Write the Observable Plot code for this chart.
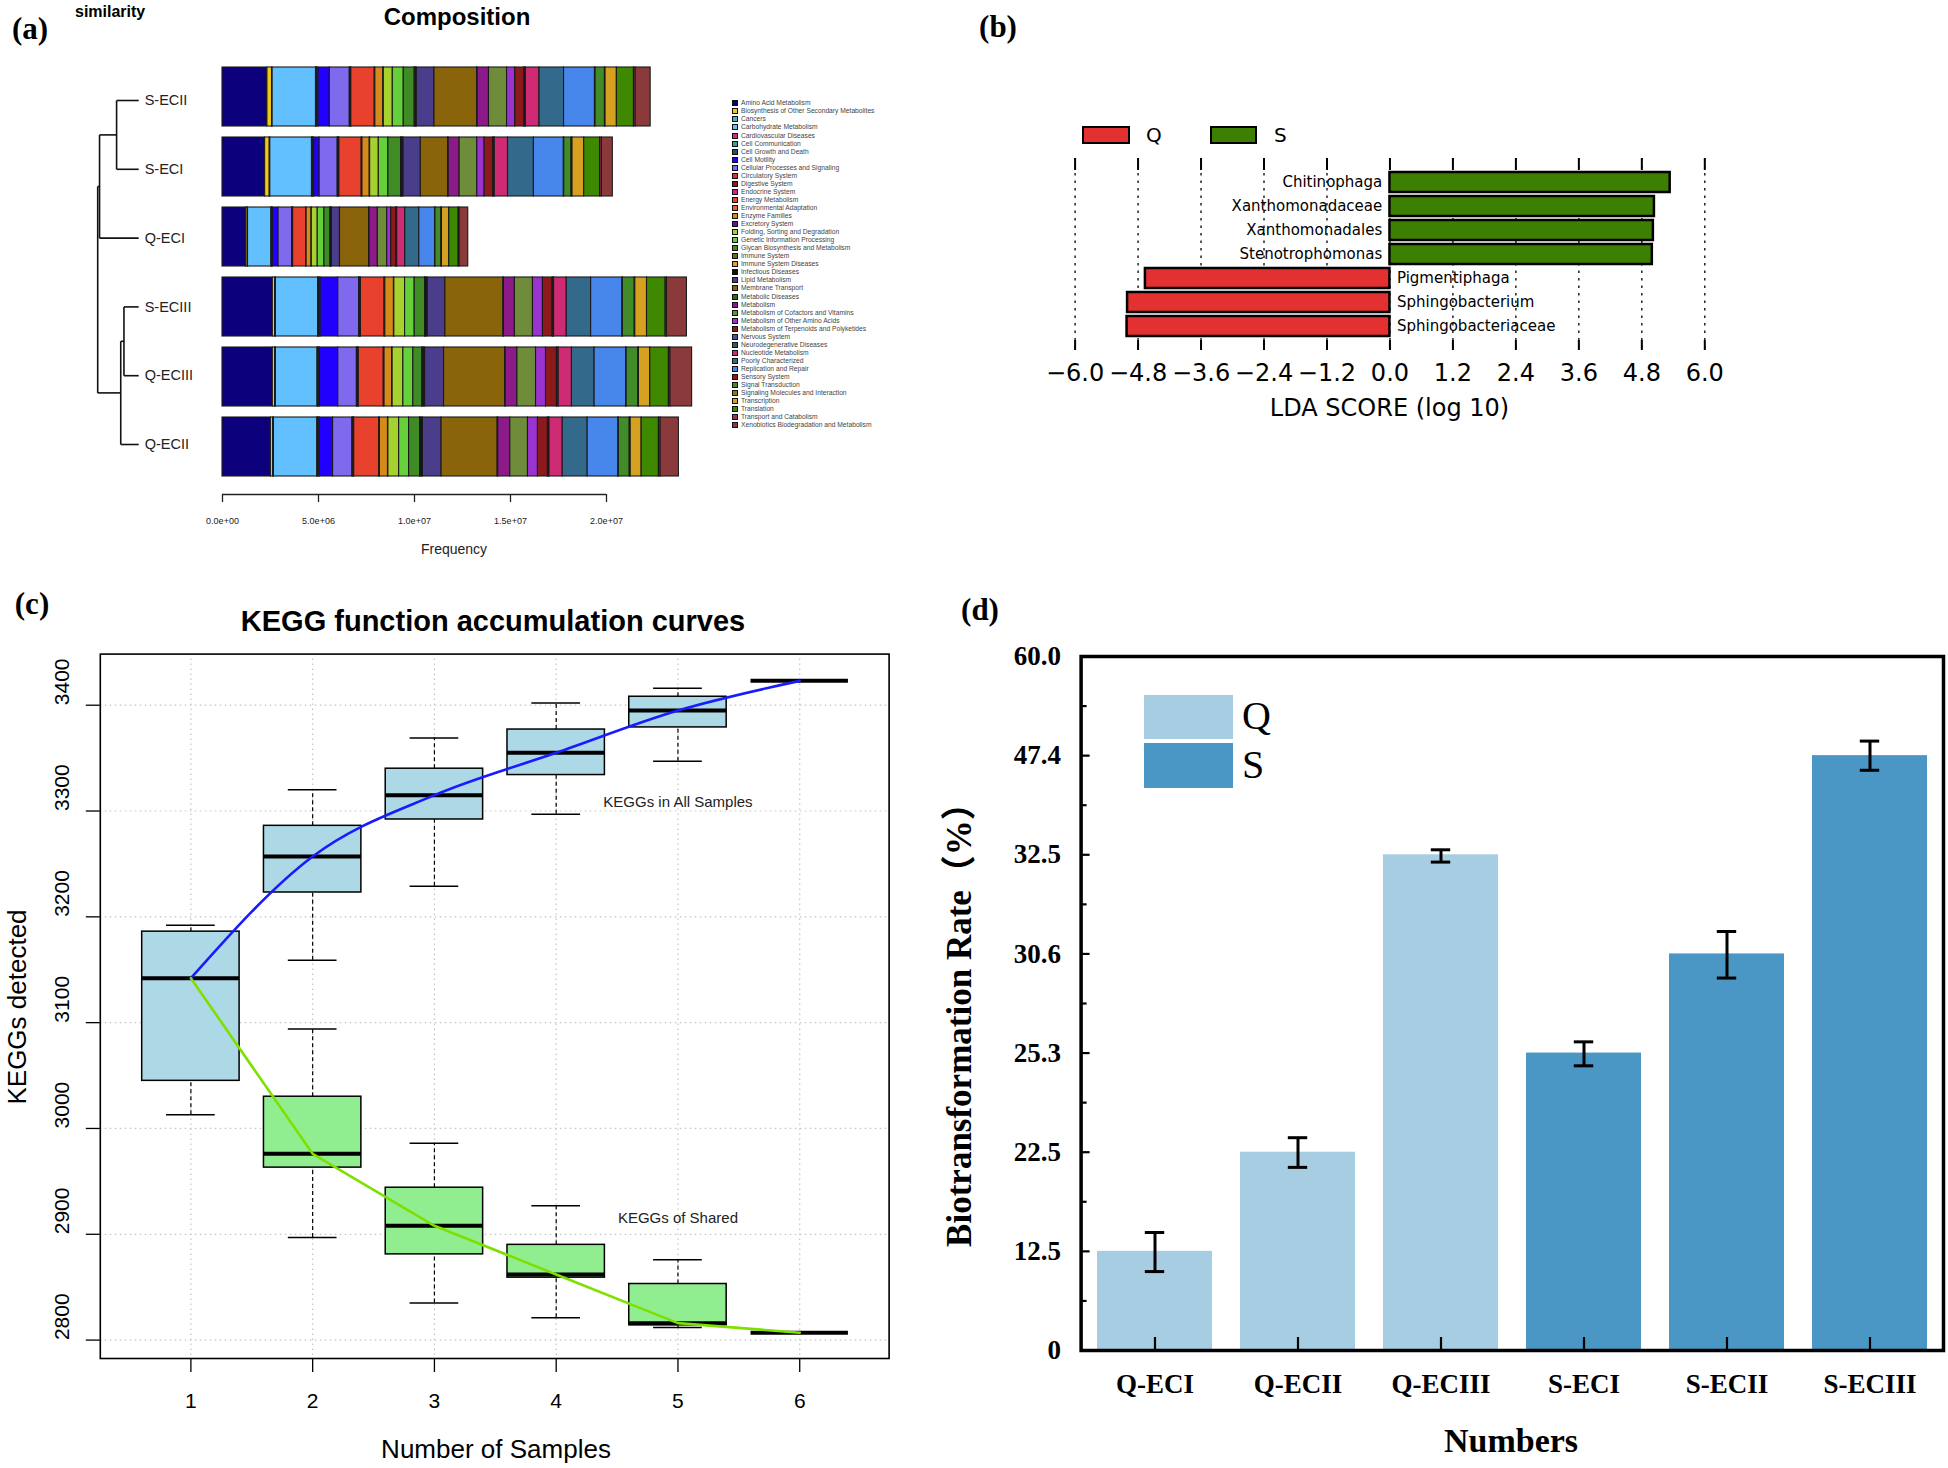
<!DOCTYPE html>
<html>
<head>
<meta charset="utf-8">
<script src="https://cdn.jsdelivr.net/npm/d3@7"></script>
<script src="https://cdn.jsdelivr.net/npm/@observablehq/plot@0.6"></script>
<style>
  html, body { margin: 0; padding: 0; background: #fff; }
  #page { position: relative; width: 1948px; height: 1468px; overflow: hidden; background: #fff; }
  .abs { position: absolute; }
  .abs svg { max-width: none !important; background: transparent !important; overflow: visible; }
  .txt { position: absolute; white-space: nowrap; line-height: 1; }
</style>
</head>
<body>
<div id="page"></div>
<script>
// ---------------- DATA ----------------
// (a) KEGG level-2 composition (frequency, millions)
const keggCategories = ["Amino Acid Metabolism","Biosynthesis of Other Secondary Metabolites","Cancers","Carbohydrate Metabolism","Cardiovascular Diseases","Cell Communication","Cell Growth and Death","Cell Motility","Cellular Processes and Signaling","Circulatory System","Digestive System","Endocrine System","Energy Metabolism","Environmental Adaptation","Enzyme Families","Excretory System","Folding, Sorting and Degradation","Genetic Information Processing","Glycan Biosynthesis and Metabolism","Immune System","Immune System Diseases","Infectious Diseases","Lipid Metabolism","Membrane Transport","Metabolic Diseases","Metabolism","Metabolism of Cofactors and Vitamins","Metabolism of Other Amino Acids","Metabolism of Terpenoids and Polyketides","Nervous System","Neurodegenerative Diseases","Nucleotide Metabolism","Poorly Characterized","Replication and Repair","Sensory System","Signal Transduction","Signaling Molecules and Interaction","Transcription","Translation","Transport and Catabolism","Xenobiotics Biodegradation and Metabolism"];
const keggColors = ["#0c007c","#f2c81d","#3fb7c9","#62c0ff","#cc2f7c","#2fa890","#2f4f4f","#2200ff","#7f6aee","#e03030","#8b1a1a","#d020a0","#e8422e","#e0672a","#d68a1c","#5a1a8a","#a6d12e","#66d03a","#3f8c26","#6b6b1a","#e0a030","#111111","#4a3d8c","#8a640a","#2e6b1e","#8c1a88","#6e8c3a","#9a33d0","#8c1a1c","#5050a0","#2f5f5f","#cf2b74","#336a8c","#4787eb","#a01010","#418c28","#8b7a10","#d6a021","#3f8900","#a03060","#8b3a3c"];
const compSamples = ["S-ECII","S-ECI","Q-ECI","S-ECIII","Q-ECIII","Q-ECII"];
const freqSECII  = [2.34,0.24,0.03,2.26,0.03,0.03,0.07,0.59,1.04,0.02,0.03,0.03,1.22,0.03,0.42,0.02,0.47,0.57,0.57,0.03,0.03,0.05,0.92,2.22,0.03,0.59,0.94,0.43,0.47,0.03,0.05,0.71,1.28,1.61,0.03,0.49,0.03,0.59,0.89,0.09,0.78];
const freqSECI   = [2.22,0.24,0.03,2.17,0.03,0.03,0.06,0.28,0.94,0.02,0.03,0.04,1.16,0.04,0.38,0.02,0.45,0.50,0.66,0.03,0.04,0.06,0.90,1.42,0.03,0.57,0.92,0.38,0.45,0.03,0.05,0.69,1.35,1.56,0.02,0.38,0.05,0.61,0.83,0.09,0.57];
const freqQECI   = [1.22,0.09,0.02,1.22,0.02,0.02,0.03,0.30,0.71,0.01,0.02,0.02,0.68,0.02,0.26,0.01,0.31,0.35,0.31,0.02,0.02,0.04,0.42,1.52,0.02,0.43,0.49,0.21,0.26,0.02,0.03,0.42,0.73,0.83,0.01,0.31,0.03,0.38,0.49,0.05,0.45];
const freqSECIII = [2.62,0.12,0.04,2.20,0.03,0.04,0.06,0.92,1.09,0.02,0.03,0.04,1.23,0.04,0.45,0.02,0.56,0.50,0.54,0.03,0.04,0.07,0.92,3.02,0.03,0.57,0.94,0.52,0.50,0.03,0.05,0.66,1.27,1.63,0.02,0.62,0.03,0.61,0.97,0.07,1.04];
const freqQECIII = [2.62,0.12,0.04,2.17,0.03,0.04,0.06,0.95,0.97,0.02,0.03,0.05,1.30,0.04,0.40,0.02,0.56,0.52,0.47,0.03,0.04,0.07,0.99,3.18,0.03,0.61,0.97,0.52,0.57,0.03,0.06,0.69,1.18,1.65,0.02,0.61,0.03,0.59,0.97,0.08,1.13];
const freqQECII  = [2.52,0.12,0.04,2.26,0.03,0.04,0.06,0.69,1.01,0.02,0.03,0.04,1.30,0.04,0.42,0.02,0.56,0.52,0.57,0.03,0.04,0.08,0.97,2.92,0.03,0.63,0.92,0.52,0.52,0.03,0.05,0.69,1.30,1.60,0.02,0.57,0.05,0.57,0.90,0.09,0.95];
const freqTicks = [0, 5e6, 1e7, 1.5e7, 2e7];
// dendrogram (leaf order and merge heights)
const dendroLeaves = ["S-ECII","S-ECI","Q-ECI","S-ECIII","Q-ECIII","Q-ECII"];
const dendroMerges = [["S-ECII","S-ECI",0.048],["m0","Q-ECI",0.085],["S-ECIII","Q-ECIII",0.032],["m2","Q-ECII",0.039],["m1","m3",0.089]];

// (b) LEfSe LDA scores
const ldaNames  = ["Chitinophaga","Xanthomonadaceae","Xanthomonadales","Stenotrophomonas","Pigmentiphaga","Sphingobacterium","Sphingobacteriaceae"];
const ldaScores = [5.34, 5.04, 5.02, 5.00, -4.66, -5.00, -5.01];
const ldaGroups = ["S","S","S","S","Q","Q","Q"];
const ldaTicks  = [-6.0,-4.8,-3.6,-2.4,-1.2,0.0,1.2,2.4,3.6,4.8,6.0];

// (c) KEGG function accumulation curves (box statistics)
const nSamples  = [1,2,3,4,5,6];
const allLo  = [3013,3159,3229,3297,3347,3423];
const allQ1  = [3045,3223,3292,3334,3379,3423];
const allMed = [3142,3257,3315,3355,3395,3423];
const allQ3  = [3186,3286,3340,3377,3408,3423];
const allHi  = [3192,3320,3369,3402,3416,3423];
const sharedN   = [2,3,4,5,6];
const sharedLo  = [2897,2835,2821,2812,2807];
const sharedQ1  = [2963,2881,2859,2814,2807];
const sharedMed = [2976,2908,2862,2816,2807];
const sharedQ3  = [3030,2944,2890,2853,2807];
const sharedHi  = [3094,2986,2927,2876,2807];
const keggTicks = [2800,2900,3000,3100,3200,3300,3400];
const annoText = ["KEGGs in All Samples","KEGGs of Shared"];
const annoN    = [5, 5];
const annoY    = [3308, 2915];

// (d) Biotransformation rate
const rateSamples  = ["Q-ECI","Q-ECII","Q-ECIII","S-ECI","S-ECII","S-ECIII"];
const rateGroups   = ["Q","Q","Q","S","S","S"];
const rateValues   = [12.5, 22.5, 32.5, 25.3, 30.6, 47.4];
const rateErrLow   = [9.95, 20.97, 32.36, 24.94, 29.31, 45.2];
const rateErrHigh  = [14.4, 22.91, 33.25, 25.9, 31.03, 49.25];
const rateTickValues = [0, 12.5, 22.5, 25.3, 30.6, 32.5, 47.4, 60.0];
const rateTickLabels = ["0","12.5","22.5","25.3","30.6","32.5","47.4","60.0"];

// ---------------- HELPERS ----------------
const page = document.getElementById("page");
function place(node, left, top, w, h) {
  const d = document.createElement("div");
  d.className = "abs";
  d.style.left = left + "px"; d.style.top = top + "px";
  d.style.width = w + "px"; d.style.height = h + "px";
  d.appendChild(node); page.appendChild(d); return d;
}
function label(text, x, y, o = {}) {
  const d = document.createElement("div");
  d.className = "txt";
  d.textContent = text;
  d.style.left = x + "px"; d.style.top = y + "px";
  d.style.fontSize = (o.size || 14) + "px";
  d.style.fontFamily = o.family || "'Liberation Sans', Arial, sans-serif";
  d.style.fontWeight = o.weight || "normal";
  d.style.color = o.color || "#000";
  const tx = o.anchor === "start" ? "0" : o.anchor === "end" ? "-100%" : "-50%";
  d.style.transform = `translate(${tx},-50%)` + (o.rotate ? ` rotate(${o.rotate}deg)` : "");
  page.appendChild(d); return d;
}
function box(x, y, w, h, fill, border) {
  const d = document.createElement("div");
  d.style.position = "absolute";
  d.style.left = x + "px"; d.style.top = y + "px";
  d.style.width = w + "px"; d.style.height = h + "px";
  d.style.background = fill; d.style.boxSizing = "border-box";
  if (border) d.style.border = border;
  page.appendChild(d); return d;
}
const SANS = "'Liberation Sans', Arial, sans-serif";
const SERIF = "'Liberation Serif', 'Times New Roman', serif";
const DEJAVU = "'DejaVu Sans', sans-serif";

// ---------------- PANEL (a) ----------------
const freqBySample = [freqSECII, freqSECI, freqQECI, freqSECIII, freqQECIII, freqQECII];
const compRows = [];
compSamples.forEach((s, i) => keggCategories.forEach((c, j) => compRows.push({sample: s, category: c, value: freqBySample[i][j] * 1e6})));

const plotA = Plot.plot({
  width: 720, height: 500,
  marginLeft: 222, marginRight: 18, marginTop: 53.6, marginBottom: 10.5,
  x: {domain: [0, 2.5e7], axis: null},
  y: {type: "band", domain: compSamples, padding: 0.157, axis: null},
  color: {domain: keggCategories, range: keggColors},
  style: {background: "transparent", overflow: "visible"},
  marks: [
    Plot.barX(compRows, {x: "value", y: "sample", fill: "category", stroke: "#1a1a1a", strokeWidth: 1.1})
  ]
});
place(plotA, 0, 0, 720, 500);

const fmtExp = d => { const [m, e] = d.toExponential(1).split("e"); return m + "e" + e[0] + e.slice(1).padStart(2, "0"); };
const plotAaxis = Plot.plot({
  width: 720, height: 80,
  marginLeft: 222, marginRight: 18, marginTop: 0, marginBottom: 76,
  x: {domain: [0, 2.5e7]},
  y: {domain: [0, 1], axis: null},
  style: {background: "transparent", overflow: "visible", fontFamily: SANS, color: "#222"},
  marks: [
    Plot.ruleY([0], {x1: freqTicks[0], x2: freqTicks[freqTicks.length - 1], strokeWidth: 1.3}),
    Plot.axisX({ticks: freqTicks, tickSize: 8, tickPadding: 14.8, fontSize: 9, tickFormat: fmtExp, label: null, strokeWidth: 1.3})
  ]
});
place(plotAaxis, 0, 490, 720, 80);

// dendrogram
const nodes = new Map(dendroLeaves.map((l, i) => [l, {h: 0, y: i}]));
const dendroSegs = [];
dendroMerges.forEach(([a, b, h], k) => {
  const A = nodes.get(a), B = nodes.get(b);
  dendroSegs.push({x1: A.h, y1: A.y, x2: h, y2: A.y});
  dendroSegs.push({x1: B.h, y1: B.y, x2: h, y2: B.y});
  dendroSegs.push({x1: h, y1: A.y, x2: h, y2: B.y});
  nodes.set("m" + k, {h, y: (A.y + B.y) / 2});
});
const plotDendro = Plot.plot({
  width: 220, height: 500,
  marginLeft: 97.2, marginRight: 81.8, marginTop: 0, marginBottom: 0,
  x: {domain: [0.089, 0], axis: null},
  y: {domain: [0, dendroLeaves.length - 1], range: [100, 444], axis: null},
  style: {background: "transparent", overflow: "visible", fontFamily: SANS},
  marks: [
    Plot.link(dendroSegs, {x1: "x1", y1: "y1", x2: "x2", y2: "y2", stroke: "#111", strokeWidth: 1.6}),
    Plot.text(dendroLeaves, {x: 0, y: (d, i) => i, text: d => d, textAnchor: "start", dx: 6, fontSize: 14.5, fill: "#222"})
  ]
});
place(plotDendro, 0, 0, 220, 500);

label("(a)", 30, 28, {size: 31, family: SERIF, weight: "bold"});
label("similarity", 75, 12, {size: 16, family: SANS, weight: "bold", anchor: "start"});
label("Composition", 457, 17, {size: 24, family: SANS, weight: "bold"});
label("Frequency", 454, 549, {size: 14, family: SANS, color: "#222"});

// legend for (a)
keggCategories.forEach((c, i) => {
  const cy = 103.3 + i * 8.05;
  box(731.5, cy - 3, 6, 6, keggColors[i], "1px solid #111");
  label(c, 741, cy, {size: 6.7, family: SANS, anchor: "start", color: "#444"});
});

// ---------------- PANEL (b) ----------------
const ldaRows = ldaNames.map((n, i) => ({name: n, score: ldaScores[i], group: ldaGroups[i]}));
const plotB = Plot.plot({
  width: 700, height: 430,
  marginLeft: 34.6, marginRight: 35.7, marginTop: 158, marginBottom: 80,
  x: {domain: [-6, 6], label: null},
  y: {type: "band", domain: ldaNames, range: [165.8, 341.2], padding: 0.17, axis: null},
  color: {domain: ["Q", "S"], range: ["#e33131", "#3d7f00"]},
  style: {background: "transparent", overflow: "visible", fontFamily: DEJAVU, color: "#000"},
  marks: [
    Plot.ruleX(ldaTicks, {stroke: "#000", strokeDasharray: "2.5,5", strokeWidth: 1.3}),
    Plot.ruleX(ldaTicks, {stroke: "#000", insetBottom: 180, strokeWidth: 2}),
    Plot.ruleX(ldaTicks, {stroke: "#000", insetTop: 182, strokeWidth: 2}),
    Plot.barX(ldaRows, {x: "score", y: "name", fill: "group", stroke: "#000", strokeWidth: 2.5}),
    Plot.text(ldaRows.filter(d => d.score > 0), {x: 0, y: "name", text: "name", textAnchor: "end", dx: -7.7, fontSize: 15, fill: "#000"}),
    Plot.text(ldaRows.filter(d => d.score < 0), {x: 0, y: "name", text: "name", textAnchor: "start", dx: 7, fontSize: 15, fill: "#000"}),
    Plot.axisX({ticks: ldaTicks, tickSize: 0, tickPadding: 13, fontSize: 24, tickFormat: d3.format(".1f"), label: null})
  ]
});
place(plotB, 1040, 0, 700, 430);

label("(b)", 998, 26, {size: 31, family: SERIF, weight: "bold"});
box(1082, 126, 48, 18, "#e33131", "2px solid #000");
label("Q", 1146, 135, {size: 20, family: DEJAVU, anchor: "start"});
box(1210, 126, 47, 18, "#3d7f00", "2px solid #000");
label("S", 1274, 135, {size: 20, family: DEJAVU, anchor: "start"});
label("LDA SCORE (log 10)", 1389.5, 408, {size: 24, family: DEJAVU});

// ---------------- PANEL (c) ----------------
const allRows = nSamples.map((n, i) => ({n, set: "all", lo: allLo[i], q1: allQ1[i], med: allMed[i], q3: allQ3[i], hi: allHi[i]}));
const sharedRows = sharedN.map((n, i) => ({n, set: "shared", lo: sharedLo[i], q1: sharedQ1[i], med: sharedMed[i], q3: sharedQ3[i], hi: sharedHi[i]}));
const boxRows = [...sharedRows, ...allRows];
const sharedLine = [{n: nSamples[0], med: allMed[0]}, ...sharedRows];
const annoRows = annoText.map((t, i) => ({t, n: annoN[i], y: annoY[i]}));

const plotC = Plot.plot({
  width: 940, height: 888,
  marginLeft: 99.8, marginRight: 51.4, marginTop: 73.6, marginBottom: 110,
  x: {domain: [0.256, 6.734], label: null},
  y: {domain: [2782.6, 3448.3], label: null},
  color: {domain: ["all", "shared"], range: ["#add8e6", "#90ee90"]},
  style: {background: "transparent", overflow: "visible", fontFamily: SANS, color: "#000"},
  marks: [
    Plot.ruleX(nSamples, {stroke: "#c4c4c4", strokeDasharray: "1.5,3.5", strokeWidth: 1.2}),
    Plot.ruleY(keggTicks, {stroke: "#c4c4c4", strokeDasharray: "1.5,3.5", strokeWidth: 1.2}),
    Plot.ruleX(boxRows, {x: "n", y1: "q3", y2: "hi", strokeDasharray: "4,3", strokeWidth: 1.2}),
    Plot.ruleX(boxRows, {x: "n", y1: "lo", y2: "q1", strokeDasharray: "4,3", strokeWidth: 1.2}),
    Plot.ruleY(boxRows, {y: "hi", x1: d => d.n - 0.2, x2: d => d.n + 0.2, strokeWidth: 1.5}),
    Plot.ruleY(boxRows, {y: "lo", x1: d => d.n - 0.2, x2: d => d.n + 0.2, strokeWidth: 1.5}),
    Plot.rect(boxRows, {x1: d => d.n - 0.4, x2: d => d.n + 0.4, y1: "q1", y2: "q3", fill: "set", stroke: "#000", strokeWidth: 1.5}),
    Plot.ruleY(boxRows, {y: "med", x1: d => d.n - 0.4, x2: d => d.n + 0.4, strokeWidth: 4}),
    Plot.line(allRows, {x: "n", y: "med", stroke: "#1a1aff", strokeWidth: 2.6, curve: "monotone-x"}),
    Plot.line(sharedLine, {x: "n", y: "med", stroke: "#7ee000", strokeWidth: 2.6, curve: "linear"}),
    Plot.text(annoRows, {x: "n", y: "y", text: "t", fontSize: 15, fill: "#222"}),
    Plot.frame({stroke: "#000", strokeWidth: 1.6}),
    Plot.axisX({ticks: nSamples, tickSize: 14, tickPadding: 21, fontSize: 21, tickFormat: d => String(d), label: null, strokeWidth: 1.3}),
    Plot.axisY({ticks: keggTicks, tickSize: 14, tickFormat: () => "", label: null, strokeWidth: 1.3}),
    Plot.text(keggTicks, {y: d => d, text: d => String(d), frameAnchor: "left", dx: -38, rotate: -90, fontSize: 21, fill: "#000"})
  ]
});
place(plotC, 0, 580, 940, 888);

label("(c)", 32, 603, {size: 31, family: SERIF, weight: "bold"});
label("KEGG function accumulation curves", 493, 621, {size: 29, family: SANS, weight: "bold"});
label("KEGGs detected", 17, 1007, {size: 26, family: SANS, rotate: -90});
label("Number of Samples", 496, 1449, {size: 26, family: SANS});

// ---------------- PANEL (d) ----------------
const toIdx = d3.scaleLinear().domain(rateTickValues).range(d3.range(rateTickValues.length));
const rateRows = rateSamples.map((s, i) => ({sample: s, group: rateGroups[i], v: toIdx(rateValues[i]), lo: toIdx(rateErrLow[i]), hi: toIdx(rateErrHigh[i])}));
const dW = 1008, dH = 888, dML = 140.6, dMR = 5, dMT = 76, dMB = 118;
const frameW = dW - dML - dMR, frameH = dH - dMT - dMB;
const majorIdx = d3.range(rateTickValues.length);
const minorIdx = d3.range(rateTickValues.length - 1).map(i => i + 0.5);

const plotD = Plot.plot({
  width: dW, height: dH,
  marginLeft: dML, marginRight: dMR, marginTop: dMT, marginBottom: dMB,
  x: {type: "band", domain: rateSamples, paddingInner: 0.195, paddingOuter: 0.1, label: null},
  y: {domain: [0, rateTickValues.length - 1], label: null},
  color: {domain: ["Q", "S"], range: ["#a7cde2", "#4a96c4"]},
  style: {background: "transparent", overflow: "visible", fontFamily: SERIF, fontWeight: "bold", color: "#000"},
  marks: [
    Plot.barY(rateRows, {x: "sample", y: "v", fill: "group"}),
    Plot.ruleX(rateRows, {x: "sample", y1: "lo", y2: "hi", strokeWidth: 3}),
    Plot.tickY(rateRows, {x: "sample", y: "hi", strokeWidth: 3, insetLeft: 47.8, insetRight: 47.8}),
    Plot.tickY(rateRows, {x: "sample", y: "lo", strokeWidth: 3, insetLeft: 47.8, insetRight: 47.8}),
    Plot.ruleY(majorIdx, {insetRight: frameW - 9, strokeWidth: 2.2}),
    Plot.ruleY(minorIdx, {insetRight: frameW - 6, strokeWidth: 2.2}),
    Plot.ruleX(rateSamples, {x: d => d, insetTop: frameH - 13, strokeWidth: 2.2}),
    Plot.frame({stroke: "#000", strokeWidth: 3.5}),
    Plot.axisY({ticks: majorIdx, tickSize: 0, tickPadding: 20, tickFormat: i => rateTickLabels[i], fontSize: 27, fontWeight: "bold", label: null}),
    Plot.axisX({tickSize: 0, tickPadding: 23.5, fontSize: 27, fontWeight: "bold", label: null})
  ]
});
place(plotD, 940, 580, dW, dH);

label("(d)", 980, 609, {size: 31, family: SERIF, weight: "bold"});
label("Biotransformation Rate（%）", 959, 1016, {size: 35, family: SERIF + ", 'Noto Sans CJK SC'", weight: "bold", rotate: -90});
label("Numbers", 1511, 1441, {size: 34, family: SERIF, weight: "bold"});
box(1144, 695, 88.6, 44, "#a7cde2");
box(1144, 743, 88.6, 45, "#4a96c4");
label("Q", 1242, 716, {size: 40, family: SERIF, anchor: "start"});
label("S", 1242, 765, {size: 40, family: SERIF, anchor: "start"});
</script>
</body>
</html>
